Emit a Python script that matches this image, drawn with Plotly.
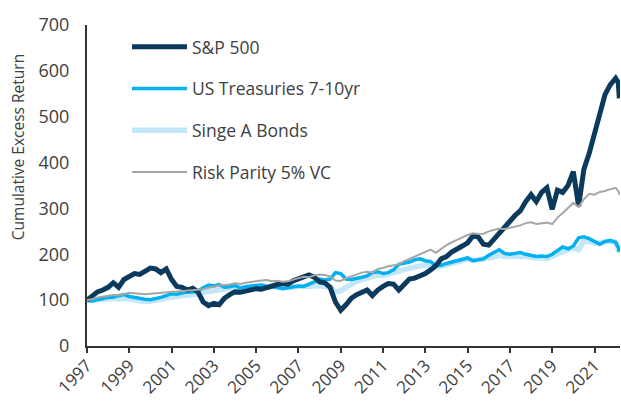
import plotly.graph_objects as go
import pandas as pd

# quarterly observation dates 1997Q1..2022Q1 plus two final monthly points
dates = [d.strftime("%Y-%m-%d") for d in pd.date_range("1997-01-01", "2022-01-01", freq="QS")]
dates += ["2022-02-15", "2022-03-05"]

sp500 = [100, 108, 118, 122, 128, 138, 128, 145, 152, 158, 156, 163,
         170, 168, 160, 168, 145, 130, 128, 122, 126, 118, 96, 88,
         93, 90, 104, 112, 118, 117, 120, 123, 125, 124, 128, 131,
         134, 136, 135, 142, 147, 153, 155, 150, 140, 138, 128, 96,
         78, 90, 104, 112, 118, 122, 110, 122, 130, 136, 135, 122,
         134, 146, 148, 152, 158, 166, 175, 190, 195, 205, 210, 218,
         225, 240, 238, 222, 220, 232, 245, 258, 272, 285, 295, 315,
         330, 315, 335, 345, 298, 340, 335, 350, 380, 305, 385, 420,
         460, 505, 548, 570, 584, 575, 540]

treasuries = [100, 98, 101, 104, 106, 107, 110, 112, 108, 106, 103, 102,
              101, 103, 106, 110, 114, 113, 115, 118, 118, 120, 127, 133,
              131, 134, 128, 129, 132, 126, 129, 131, 132, 133, 130, 129,
              128, 125, 127, 130, 131, 130, 134, 140, 146, 144, 146, 160,
              158, 146, 145, 147, 150, 153, 160, 162, 158, 160, 166, 178,
              180, 183, 188, 190, 186, 184, 175, 176, 180, 183, 185, 190,
              192, 186, 188, 190, 198, 203, 210, 202, 200, 202, 204, 200,
              197, 195, 196, 195, 200, 208, 216, 212, 218, 236, 238, 234,
              228, 222, 228, 230, 226, 215, 205]

single_a = [100, 99, 101, 103, 104, 104, 103, 104, 103, 101, 98, 97,
            98, 99, 101, 104, 107, 108, 110, 111, 113, 114, 117, 119,
            121, 125, 124, 126, 128, 126, 128, 130, 130, 131, 130, 128,
            128, 126, 127, 129, 129, 128, 129, 131, 132, 130, 128, 118,
            120, 128, 135, 141, 145, 148, 152, 155, 154, 156, 160, 163,
            167, 170, 174, 177, 177, 176, 172, 174, 178, 181, 184, 187,
            190, 187, 188, 189, 192, 195, 198, 195, 195, 196, 197, 196,
            193, 191, 192, 191, 196, 203, 208, 210, 214, 210, 228, 228,
            224, 225, 228, 229, 226, 214, 206]

risk_parity = [100, 102, 106, 108, 109, 111, 110, 113, 116, 115, 114, 113,
               114, 115, 116, 117, 118, 119, 120, 121, 122, 123, 124, 127,
               130, 132, 133, 134, 137, 135, 138, 140, 142, 143, 144, 141,
               142, 140, 141, 145, 148, 151, 150, 154, 156, 155, 152, 143,
               142, 148, 152, 157, 160, 162, 160, 168, 170, 174, 176, 178,
               185, 190, 195, 200, 205, 210, 203, 212, 220, 226, 232, 237,
               242, 246, 244, 245, 250, 253, 256, 255, 258, 260, 263, 268,
               270, 266, 268, 269, 266, 280, 290, 300, 312, 303, 320, 332,
               330, 336, 338, 342, 345, 338, 330]

series_names = ["S&P 500", "US Treasuries 7-10yr", "Singe A Bonds", "Risk Parity 5% VC"]
x_ticks = [f"{y}-01-01" for y in range(1997, 2022, 2)]
x_ticklabels = [str(y) for y in range(1997, 2022, 2)]
y_ticks = [0, 100, 200, 300, 400, 500, 600, 700]
y_title = "Cumulative Excess Return"

FONT = "Open Sans"
TXT = "#404040"
AXIS = "#333333"

# draw order: light bonds, treasuries, S&P, risk parity; legend order via legendrank
specs = [
    (single_a, series_names[2], "#C3E7F8", 5.5, 3),
    (treasuries, series_names[1], "#00B0F0", 3.5, 2),
    (sp500, series_names[0], "#0B3A5C", 5, 1),
    (risk_parity, series_names[3], "#A6A6A6", 2, 4),
]

fig = go.Figure()
for vals, name, color, width, rank in specs:
    fig.add_trace(go.Scatter(
        x=dates, y=vals, name=name, mode="lines",
        line=dict(color=color, width=width),
        legendrank=rank, legendgroup=name,
    ))

fig.add_annotation(
    text=y_title, textangle=-90, showarrow=False,
    xref="paper", yref="paper", x=-0.129, y=0.62,
    xanchor="center", yanchor="middle",
    font=dict(size=15.5, color=TXT, family=FONT),
)

fig.update_layout(
    width=621, height=401,
    margin=dict(l=87, r=1, t=25, b=55, autoexpand=False),
    paper_bgcolor="white", plot_bgcolor="white",
    font=dict(family=FONT, size=16, color=TXT),
    showlegend=True,
    legend=dict(
        x=0.075, y=0.988, xanchor="left", yanchor="top",
        bgcolor="rgba(0,0,0,0)", font=dict(size=17.5, color=TXT, family=FONT),
        tracegroupgap=16, itemwidth=55,
    ),
    xaxis=dict(
        type="date", range=["1997-01-01", "2022-03-17"], automargin=False,
        tickvals=x_ticks, ticktext=x_ticklabels, tickangle=-45,
        showgrid=False, zeroline=False,
        showline=True, linecolor=AXIS, linewidth=2,
        ticks="outside", ticklen=5, tickwidth=2, tickcolor=AXIS,
        ticklabelstandoff=-4,
        tickfont=dict(size=17, color=TXT, family=FONT),
    ),
    yaxis=dict(
        range=[0, 700], tickvals=y_ticks, automargin=False,
        showgrid=False, zeroline=False,
        showline=True, linecolor=AXIS, linewidth=2,
        ticks="", ticklabelstandoff=12,
        tickfont=dict(size=18, color=TXT, family=FONT),
    ),
)

fig.write_html(
    "out.html",
    config={"displayModeBar": False},
    post_script="document.body.style.margin='0';document.body.style.overflow='hidden';",
)
